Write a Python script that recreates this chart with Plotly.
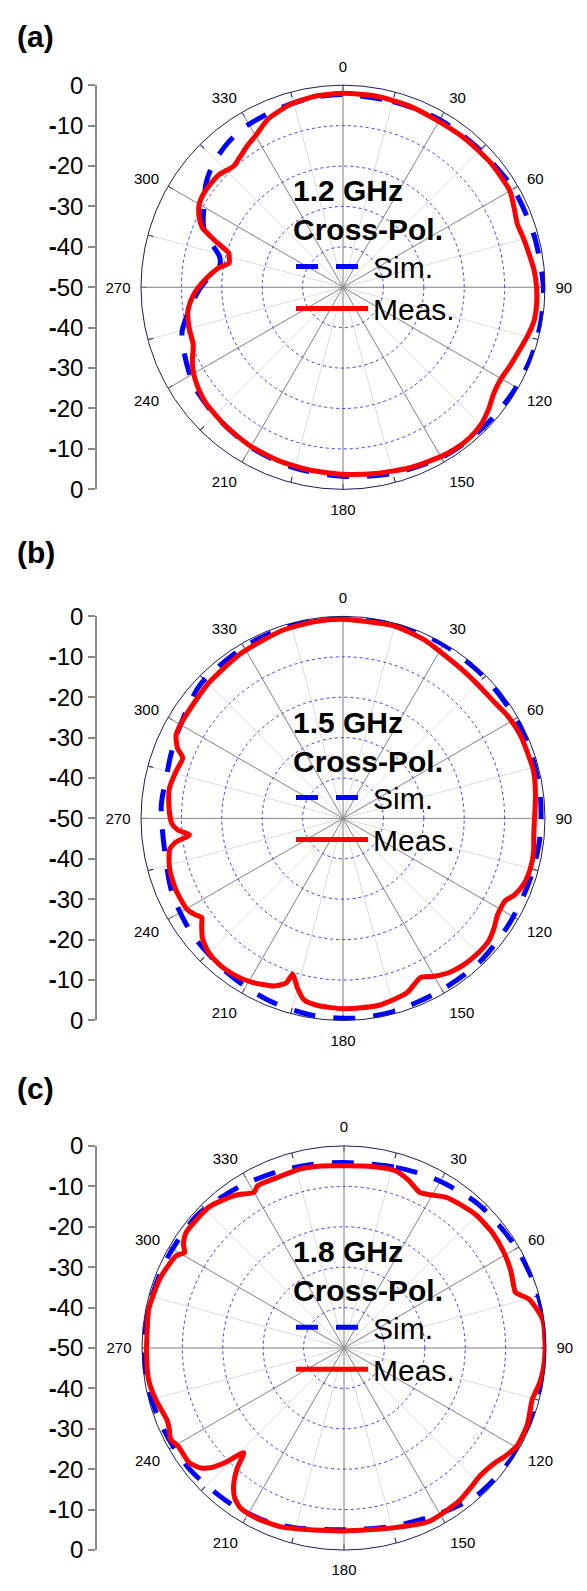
import plotly.graph_objects as go

# ---------------- data ----------------
angle_ticks = [0, 30, 60, 90, 120, 150, 180, 210, 240, 270, 300, 330]
angle_tick_labels = ["0", "30", "60", "90", "120", "150", "180", "210", "240", "270", "300", "330"]
radial_grid_db = [-40, -30, -20, -10]
left_tick_vals = [50, 40, 30, 20, 10, 0, -10, -20, -30, -40, -50]
left_tick_labels = ["0", "<b>-</b>10", "<b>-</b>20", "<b>-</b>30", "<b>-</b>40", "<b>-</b>50",
                    "<b>-</b>40", "<b>-</b>30", "<b>-</b>20", "<b>-</b>10", "0"]
panel_letters = ["(a)", "(b)", "(c)"]
freq_labels = ["1.2 GHz", "1.5 GHz", "1.8 GHz"]
pol_label = "Cross-Pol."
series_names = ["Sim.", "Meas."]

# (a) 1.2 GHz
a_sim_theta = [0, 15, 30, 45, 60, 75, 90, 100, 110, 120, 130, 140, 150, 165, 180, 195, 210, 225, 235, 240,
               250, 255, 262, 269, 275, 280, 284, 288, 292, 296, 300, 307, 313, 320, 328, 340, 350, 360]
a_sim_r = [-2.3, -2.4, -2.1, -2.0, -1.3, -1.0, -0.4, -0.3, -0.3, -0.5, -0.8, -1.0, -1.3, -2.3, -3.2, -3.7, -4.3,
           -5.2, -5.7, -6.3, -7.8, -8.8, -11.7, -14.4, -17.0, -19.0, -18.5, -16.0, -13.0, -11.5, -10.3, -7.5,
           -5.8, -4.5, -3.5, -3.0, -2.5, -2.3]
a_meas_theta = [0, 10, 20, 30, 40, 50, 60, 65, 70, 75, 80, 85, 90, 95, 100, 105, 110, 115, 120, 125, 130, 135,
                140, 145, 150, 160, 170, 180, 190, 200, 210, 220, 230, 235, 240, 244, 249, 255, 261, 265, 268,
                272, 276, 279, 282, 284, 286.6, 290, 293, 296, 300, 305, 312, 318, 322, 326, 330, 336, 344, 352,
                360]
a_meas_r = [-2.0, -2.0, -2.2, -2.6, -2.4, -2.2, -2.3, -3.3, -4.1, -3.7, -3.2, -2.5, -2.1, -1.9, -2.0, -2.8,
            -3.7, -4.3, -4.8, -4.4, -3.0, -1.8, -1.3, -1.3, -1.6, -2.4, -3.2, -3.7, -4.0, -4.2, -4.5, -5.0,
            -5.6, -6.3, -7.3, -8.5, -10.3, -10.6, -11.1, -12.2, -13.3, -15.2, -17.3, -18.9, -21.2, -21.0,
            -20.5, -16.3, -12.2, -10.4, -8.9, -8.4, -8.5, -9.6, -8.8, -7.7, -6.7, -4.4, -2.9, -2.2, -2.0]

# (b) 1.5 GHz
b_sim_theta = [0, 15, 30, 45, 60, 70, 82, 95, 108, 122, 137, 152, 166, 177, 189, 202, 216, 232, 246, 259,
               274, 283, 290, 298, 313, 330, 344, 360]
b_sim_r = [-0.2, -0.2, -0.3, -0.5, -0.6, -0.7, -0.8, -1.0, -1.3, -1.3, -0.9, -1.0, -0.6, -0.5, -0.7, -1.3,
           -2.2, -2.9, -3.8, -5.1, -4.9, -5.1, -4.6, -3.8, -1.6, -1.0, -0.6, -0.2]
b_meas_theta = [0, 15, 25, 30, 38, 45, 52, 58, 65, 76, 83, 90, 95, 100, 105, 110, 114, 117, 122, 126, 130,
                135, 140, 145, 150, 154, 157, 160, 169, 180, 188, 192, 195, 197.9, 199, 202, 209, 215, 220,
                225, 229.6, 233, 235, 237, 240, 247, 253.7, 259.8, 262, 263.9, 266, 268.3, 274, 280, 286,
                290.7, 293, 296.6, 303, 315, 328, 342, 352, 360]
b_meas_r = [-0.7, -0.7, -1.5, -2.2, -2.8, -3.0, -2.8, -2.0, -1.5, -1.4, -2.0, -2.6, -2.6, -2.1, -2.0, -2.4,
            -3.5, -5.0, -4.9, -3.8, -2.9, -2.8, -3.0, -3.6, -4.9, -6.2, -5.2, -4.0, -2.9, -2.9, -3.3, -4.0,
            -6.5, -9.5, -7.0, -5.3, -3.6, -2.8, -2.6, -3.0, -4.3, -6.2, -7.3, -6.3, -5.3, -5.0, -5.3, -6.4,
            -8.3, -11.8, -9.0, -7.6, -6.8, -6.4, -7.1, -7.6, -5.5, -3.8, -3.5, -2.8, -2.0, -1.1, -0.8, -0.7]

# (c) 1.8 GHz
c_sim_theta = [0, 16, 28, 43, 59, 73, 84, 95, 107, 122, 138, 151, 165, 180, 195, 204, 216, 232, 246, 260,
               272, 285, 297, 312, 327, 340, 350, 360]
c_sim_r = [-4.1, -3.5, -2.5, -1.3, -0.7, -0.2, -0.1, -0.1, -0.1, -0.2, -0.9, -2.8, -4.3, -5.0, -3.9, -3.0,
           -2.3, -1.4, -1.0, -0.4, -0.5, -0.8, -0.9, -1.0, -2.4, -3.4, -3.9, -4.1]
c_meas_theta = [0, 8, 16, 21, 26, 30, 34, 40, 45, 52, 59, 65, 70, 72, 75, 77, 82, 90, 96, 100, 105.5, 110,
                113, 119.5, 124, 127, 133, 138, 143, 154, 165, 180, 194, 200, 207.5, 212.8, 216, 218.8, 221.5,
                223.8, 226, 228, 230, 233.6, 239.4, 242.2, 245, 247.9, 254.5, 260.6, 269, 275, 281, 290.6,
                298.8, 300.9, 303, 306, 316.3, 324.5, 330, 332, 338.8, 346.4, 353, 360]
c_meas_r = [-4.9, -4.6, -4.3, -5.5, -7.2, -6.3, -5.0, -4.2, -3.6, -3.5, -3.9, -4.5, -5.3, -5.4, -2.8, -1.9,
            -0.3, -0.2, -0.4, -0.8, -1.7, -1.2, -0.8, -0.8, -2.0, -3.0, -3.8, -3.3, -2.6, -2.2, -3.9, -4.7,
            -3.8, -3.0, -2.6, -2.8, -4.0, -6.4, -10.0, -14.1, -9.3, -5.8, -3.8, -2.3, -2.3, -1.5, -2.3, -2.7,
            -1.7, -1.0, -1.1, -1.1, -0.7, -1.3, -2.6, -4.0, -2.6, -1.6, -1.7, -3.6, -5.5, -4.5, -4.7, -4.4,
            -4.6, -4.9]

panels = [
    (a_sim_theta, a_sim_r, a_meas_theta, a_meas_r),
    (b_sim_theta, b_sim_r, b_meas_theta, b_meas_r),
    (c_sim_theta, c_sim_r, c_meas_theta, c_meas_r),
]

# ---------------- layout geometry (pixels) ----------------
W, H = 587, 1591
RAD = 205.5
centers = [(343, 278), (343, 818.3), (344, 1357)]
letter_y = [23, 548, 1093]
axis_x = 97
legend_x = 291
legend_top_offset = -127

FONT = "Liberation Sans, Arial, sans-serif"
SIM_COLOR = "#0000FF"
MEAS_COLOR = "#FF0000"
NAVY = "#1c1c5a"


def fx(x):
    return x / W


def fy(y):
    return 1 - y / H


fig = go.Figure()
layout = dict(
    width=W, height=H, margin=dict(l=0, r=0, t=0, b=0),
    paper_bgcolor="white", plot_bgcolor="white",
    font=dict(family=FONT, color="black"),
    showlegend=True, annotations=[],
)

legend_keys = ["legend", "legend2", "legend3"]

for i, (cx, cy) in enumerate(centers):
    dom_x = [fx(cx - RAD), fx(cx + RAD)]
    dom_y = [fy(cy + RAD), fy(cy - RAD)]
    grid_id = "polar" if i == 0 else f"polar{i + 1}"
    data_id = f"polar{i + 4}"

    # light 15-degree grid underneath (with small inner ticks)
    layout[grid_id] = dict(
        domain=dict(x=dom_x, y=dom_y), bgcolor="white",
        angularaxis=dict(rotation=90, direction="clockwise", tickmode="linear", tick0=0, dtick=15,
                         showticklabels=False, ticks="inside", ticklen=5, tickcolor=NAVY, tickwidth=1,
                         showline=False, gridcolor="#dcdcdc", gridwidth=1),
        radialaxis=dict(visible=False, range=[-50, 0]),
    )
    fig.add_trace(go.Scatterpolar(r=[], theta=[], subplot=grid_id, showlegend=False, hoverinfo="skip"))

    # main polar with data
    layout[data_id] = dict(
        domain=dict(x=dom_x, y=dom_y), bgcolor="rgba(0,0,0,0)",
        angularaxis=dict(rotation=90, direction="clockwise", tickmode="array",
                         tickvals=angle_ticks, ticktext=angle_tick_labels,
                         showline=True, linecolor=NAVY, linewidth=1,
                         gridcolor="#8c8c8c", gridwidth=1,
                         ticks="outside", ticklen=7, tickcolor="rgba(0,0,0,0)",
                         tickfont=dict(size=15, color="black", family=FONT)),
        radialaxis=dict(range=[-50, 0], tickmode="array", tickvals=radial_grid_db,
                        showticklabels=False, ticks="", showline=False,
                        gridcolor="#3a3aff", griddash="dot", gridwidth=1),
    )

    st, sr, mt, mr = panels[i]
    lg = legend_keys[i]
    fig.add_trace(go.Scatterpolar(
        r=sr, theta=st, subplot=data_id, mode="lines", name=series_names[0], legend=lg,
        line=dict(color=SIM_COLOR, width=5, dash="22px,18px", shape="spline", smoothing=0.8),
    ))
    fig.add_trace(go.Scatterpolar(
        r=mr, theta=mt, subplot=data_id, mode="lines", name=series_names[1], legend=lg,
        line=dict(color=MEAS_COLOR, width=5, shape="spline", smoothing=0.6),
    ))

    layout[lg] = dict(
        x=fx(legend_x), y=fy(cy + legend_top_offset), xanchor="left", yanchor="top",
        bgcolor="rgba(0,0,0,0)", borderwidth=0, itemwidth=72, tracegroupgap=0,
        font=dict(size=30, color="black", family=FONT),
        title=dict(text=f"<b>{freq_labels[i]}<br>{pol_label}</b>", font=dict(size=30, family=FONT)),
    )

    # left linear dB scale
    xa = "xaxis" if i == 0 else f"xaxis{i + 1}"
    ya = "yaxis" if i == 0 else f"yaxis{i + 1}"
    xr = "x" if i == 0 else f"x{i + 1}"
    yr = "y" if i == 0 else f"y{i + 1}"
    layout[xa] = dict(domain=[fx(axis_x), fx(axis_x + 1)], anchor=yr, visible=False, range=[0, 1])
    layout[ya] = dict(domain=dom_y, anchor=xr, range=[-50, 50], tickmode="array",
                      tickvals=left_tick_vals, ticktext=left_tick_labels,
                      showline=True, linecolor="#8a8a8a", linewidth=1.5,
                      ticks="outside", ticklen=7, tickcolor="#8a8a8a", tickwidth=1.5,
                      showgrid=False, zeroline=False,
                      tickfont=dict(size=24, color="black", family=FONT))
    fig.add_trace(go.Scatter(x=[None], y=[None], xaxis=xr, yaxis=yr, showlegend=False, hoverinfo="skip"))

    layout["annotations"].append(dict(
        text=f"<b>{panel_letters[i]}</b>", x=fx(15), y=fy(letter_y[i]), xref="paper", yref="paper",
        xanchor="left", yanchor="middle", showarrow=False, font=dict(size=30, color="black", family=FONT),
    ))

fig.update_layout(**layout)
fig.write_html("out.html",
               post_script="document.body.style.margin='0px';document.body.style.overflow='hidden';")
